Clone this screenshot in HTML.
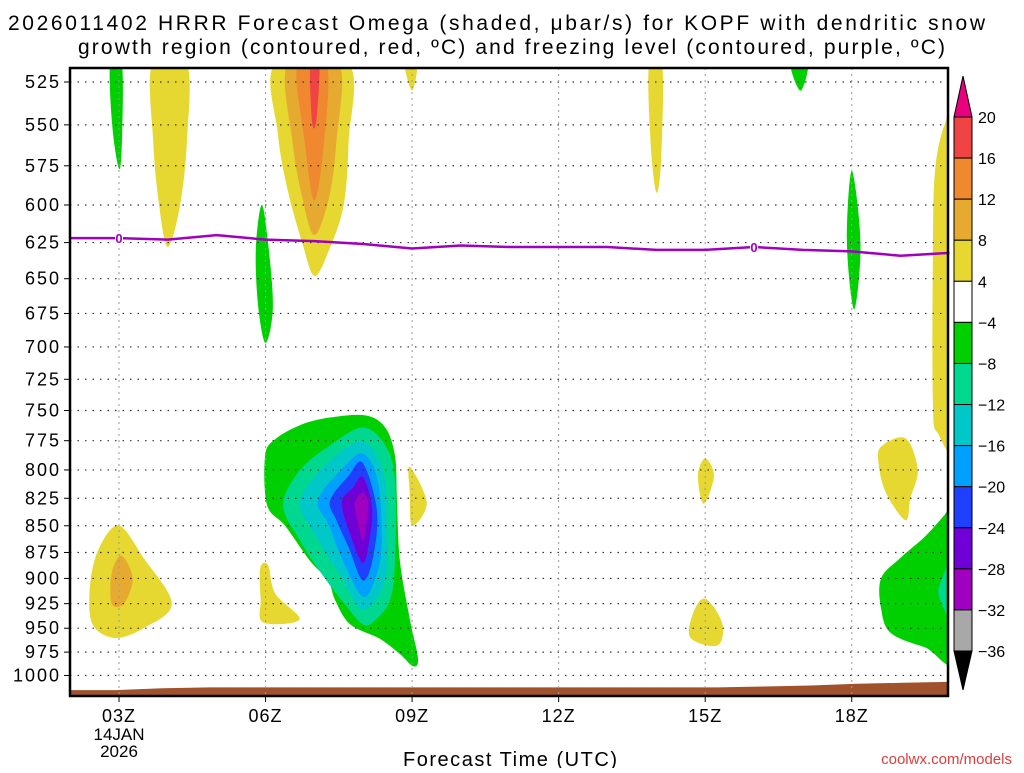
<!DOCTYPE html>
<html><head><meta charset="utf-8"><style>
body{margin:0;background:#fff;}
svg text{font-family:"Liberation Sans","DejaVu Sans",sans-serif;}
</style></head><body>
<svg id="chart" width="1024" height="768" xmlns="http://www.w3.org/2000/svg">
<text x="8" y="30" font-size="21" textLength="977" lengthAdjust="spacing">2026011402 HRRR Forecast Omega (shaded, μbar/s) for KOPF with dendritic snow</text>
<text x="78" y="54" font-size="21" textLength="867" lengthAdjust="spacing">growth region (contoured, red, ºC) and freezing level (contoured, purple, ºC)</text>
<g id="fills"></g>
<g id="grid"></g>
<g id="frz"></g>
<g id="axes"></g>
<g id="cbar"></g>
<text x="403" y="766" font-size="20" textLength="214" lengthAdjust="spacing">Forecast Time (UTC)</text>
<text x="1012" y="764" font-size="15" text-anchor="end" fill="#e03c3c">coolwx.com/models</text>
</svg>
<script>
const pLevels=[525,550,575,600,625,650,675,700,725,750,775,800,825,850,875,900,925,950,975,1000];
const xTicks=[3,6,9,12,15,18];
const xTickLabels=["03Z","06Z","09Z","12Z","15Z","18Z"];
const frzHours=[2,3,4,5,6,7,8,9,10,11,12,13,14,15,16,17,18,19,20];
const frzP=[622,622,623,620,623,624,626,629,627,628,628,628,630,630,628,630,631,634,632];
const terrainP=[1016,1016,1014,1013,1013,1013,1013,1013,1013,1013,1013,1013,1013,1013,1013,1012,1011,1009,1008,1007];
const cbLevels=[20,16,12,8,4,-4,-8,-12,-16,-20,-24,-28,-32,-36];
const cbColors=["#f04444","#f08830","#e6aa30","#e6d830","#ffffff","#00d000","#00d890","#00c8c8","#00a0ff","#2040ff","#7000d8","#a000c0","#a8a8a8"];
const blobs=[
 [5,[[2.82,515],[3.06,515],[3.06,560],[3.0,577],[2.86,550]]],
 [3,[[3.68,515],[4.39,515],[4.39,560],[4.25,600],[4.0,628],[3.82,600],[3.7,560]]],
 [3,[[6.2,515],[7.7,515],[7.7,560],[7.6,600],[7.3,630],[7.0,648],[6.75,625],[6.45,590],[6.25,555]]],
 [2,[[6.45,515],[7.5,515],[7.45,560],[7.3,595],[7.0,620],[6.75,595],[6.55,560]]],
 [1,[[6.65,515],[7.25,515],[7.2,560],[7.0,597],[6.8,560]]],
 [0,[[6.92,515],[7.1,515],[7.05,545],[6.98,552],[6.93,540]]],
 [3,[[8.85,515],[9.1,515],[9.0,530]]],
 [5,[[5.92,600],[6.05,625],[6.15,670],[6.0,697],[5.85,670],[5.8,630]]],
 [3,[[13.85,515],[14.12,515],[14.1,570],[14.0,592],[13.88,560]]],
 [5,[[16.75,515],[17.1,515],[16.95,530]]],
 [5,[[18.0,578],[18.18,625],[18.05,672],[17.9,625]]],
 [3,[[20.2,540],[20.2,765],[19.75,768],[19.66,740],[19.66,640],[19.7,580],[19.9,550]]],
 [3,[[18.6,780],[19.1,773],[19.35,800],[19.2,825],[19.1,845],[18.7,820],[18.55,795]]],
 [3,[[15.0,790],[15.18,805],[14.97,830],[14.85,805]]],
 [3,[[15.0,920],[15.35,945],[15.25,968],[14.7,960],[14.75,935]]],
 [3,[[2.41,905],[2.6,870],[3.0,850],[3.5,880],[4.08,925],[3.5,950],[2.9,960],[2.45,945]]],
 [2,[[2.85,895],[3.05,878],[3.28,900],[3.1,925],[2.85,925]]],
 [3,[[8.95,797],[9.3,829],[9.0,850],[8.95,820]]],
 [3,[[5.89,890],[6.05,887],[6.2,915],[6.7,941],[5.95,944],[5.9,920]]],
 [5,[[5.99,788],[6.19,774],[6.71,762],[7.28,756],[8.04,754],[8.45,764],[8.65,788],[8.69,827],[8.75,883],[8.96,942],[9.12,982],[9.02,990],[8.75,977],[8.34,961],[7.73,946],[7.42,921],[7.28,902],[6.91,883],[6.4,850],[6.03,831]]],
 [6,[[6.36,831],[6.71,800],[7.32,779],[7.99,764],[8.45,779],[8.65,809],[8.65,883],[8.55,921],[8.24,942],[7.99,946],[7.63,926],[7.11,893],[6.71,864]]],
 [7,[[6.71,827],[7.32,792],[7.99,776],[8.4,800],[8.49,845],[8.45,902],[7.99,931],[7.53,897],[7.02,859]]],
 [8,[[7.07,827],[7.55,800],[7.99,786],[8.3,810],[8.38,867],[8.25,900],[7.99,918],[7.6,885],[7.3,850]]],
 [9,[[7.32,827],[7.7,805],[7.99,794],[8.28,836],[8.2,880],[7.99,902],[7.7,870],[7.45,845]]],
 [10,[[7.56,829],[7.8,815],[7.99,806],[8.18,833],[8.12,865],[7.99,885],[7.75,860]]],
 [11,[[7.83,829],[7.99,820],[8.1,829],[8.05,850],[7.99,864],[7.88,845]]],
 [5,[[20.2,825],[20.2,980],[19.5,970],[18.8,955],[18.6,930],[18.6,900],[19.0,880],[19.5,860],[19.9,840]]],
 [6,[[20.2,870],[20.2,950],[19.8,920],[19.85,900]]]
];
const L=70,R=948,T=68,B=696;
const X=h=>119+(h-3)*48.85;
const Y=p=>82+921*Math.log(p/525);
const NS="http://www.w3.org/2000/svg";
function mk(tag,attrs,parent){const e=document.createElementNS(NS,tag);for(const k in attrs)e.setAttribute(k,attrs[k]);parent.appendChild(e);return e;}
function smooth(pts){const n=pts.length;let d=`M${pts[0][0]},${pts[0][1]}`;for(let i=0;i<n;i++){const p0=pts[(i-1+n)%n],p1=pts[i],p2=pts[(i+1)%n],p3=pts[(i+2)%n];const c1=[p1[0]+(p2[0]-p0[0])/6,p1[1]+(p2[1]-p0[1])/6],c2=[p2[0]-(p3[0]-p1[0])/6,p2[1]-(p3[1]-p1[1])/6];d+=`C${c1[0].toFixed(1)},${c1[1].toFixed(1)} ${c2[0].toFixed(1)},${c2[1].toFixed(1)} ${p2[0].toFixed(1)},${p2[1].toFixed(1)}`;}return d+"Z";}
const svg=document.getElementById('chart');
const defs=mk('defs',{},svg);const cp=mk('clipPath',{id:'pc'},defs);mk('rect',{x:L,y:T,width:R-L,height:B-T},cp);
const fills=document.getElementById('fills');fills.setAttribute('clip-path','url(#pc)');
blobs.forEach((b,i)=>{const pts=b[1].map(q=>[X(q[0]),Y(q[1])]);
 const e=mk('path',{d:smooth(pts),fill:cbColors[b[0]]},fills);
 
 });
let td=`M${X(2)},${B}`;terrainP.forEach((p,i)=>{td+=`L${X(2+i*18/(terrainP.length-1))},${Y(p)}`});td+=`L${X(20)},${B}Z`;
const te=mk('path',{d:td,fill:'#a0522d'},fills);


const grid=document.getElementById('grid');
pLevels.forEach(p=>{const g=mk('line',{x1:L,x2:R,y1:Y(p),y2:Y(p),stroke:'#333','stroke-width':1.2,'stroke-dasharray':'1.5 6'},grid);
 
 });
xTicks.forEach(h=>{const g=mk('line',{x1:X(h),x2:X(h),y1:T,y2:B,stroke:'#999','stroke-width':1,'stroke-dasharray':'2 4'},grid);
 
 });
const frz=document.getElementById('frz');
const fl=mk('path',{d:frzHours.map((h,i)=>(i?'L':'M')+X(h)+','+Y(frzP[i])).join(''),fill:'none',stroke:'#a000c0','stroke-width':2.5},frz);


[3,16].forEach(h=>{const i=frzHours.indexOf(h);
 const r=mk('rect',{x:X(h)-4,y:Y(frzP[i])-7,width:8,height:14,fill:'#fff'},frz);
 
 
 const t=mk('text',{x:X(h),y:Y(frzP[i])+5,'font-size':13,'font-weight':'bold','text-anchor':'middle',fill:'#a000c0'},frz);t.textContent='0';
 
 });
const axes=document.getElementById('axes');
const fr=mk('rect',{x:L,y:T,width:R-L,height:B-T,fill:'none',stroke:'#000','stroke-width':2.5},axes);


pLevels.forEach(p=>{mk('line',{x1:L-6,x2:L,y1:Y(p),y2:Y(p),stroke:'#000'},axes);
 const t=mk('text',{x:L-9,y:Y(p)+6,'font-size':18,'text-anchor':'end','letter-spacing':'2'},axes);t.textContent=p;
 
 });
xTicks.forEach((h,i)=>{mk('line',{x1:X(h),x2:X(h),y1:B,y2:B+6,stroke:'#000'},axes);
 const t=mk('text',{x:X(h),y:722,'font-size':18,'text-anchor':'middle','letter-spacing':'1'},axes);t.textContent=xTickLabels[i];
 
 });
[["14JAN",740],["2026",757]].forEach(a=>{const t=mk('text',{x:X(3),y:a[1],'font-size':17,'text-anchor':'middle'},axes);t.textContent=a[0];
 
 });
const cb=document.getElementById('cbar');const cx=954,cw=18,ct=117,step=(651-117)/13;
mk('path',{d:`M${cx},${ct}L${cx+cw/2},76L${cx+cw},${ct}Z`,fill:'#e8007f',stroke:'#000'},cb);
mk('path',{d:`M${cx},651L${cx+cw/2},690L${cx+cw},651Z`,fill:'#000',stroke:'#000'},cb);
cbColors.forEach((c,i)=>{const r=mk('rect',{x:cx,y:ct+i*step,width:cw,height:step,fill:c,stroke:'#000','stroke-width':1},cb);
 
 });
cbLevels.forEach((v,i)=>{const t=mk('text',{x:978,y:ct+i*step+6,'font-size':16},cb);t.textContent=v<0?'−'+(-v):v;
 
 });
</script>
</body></html>
